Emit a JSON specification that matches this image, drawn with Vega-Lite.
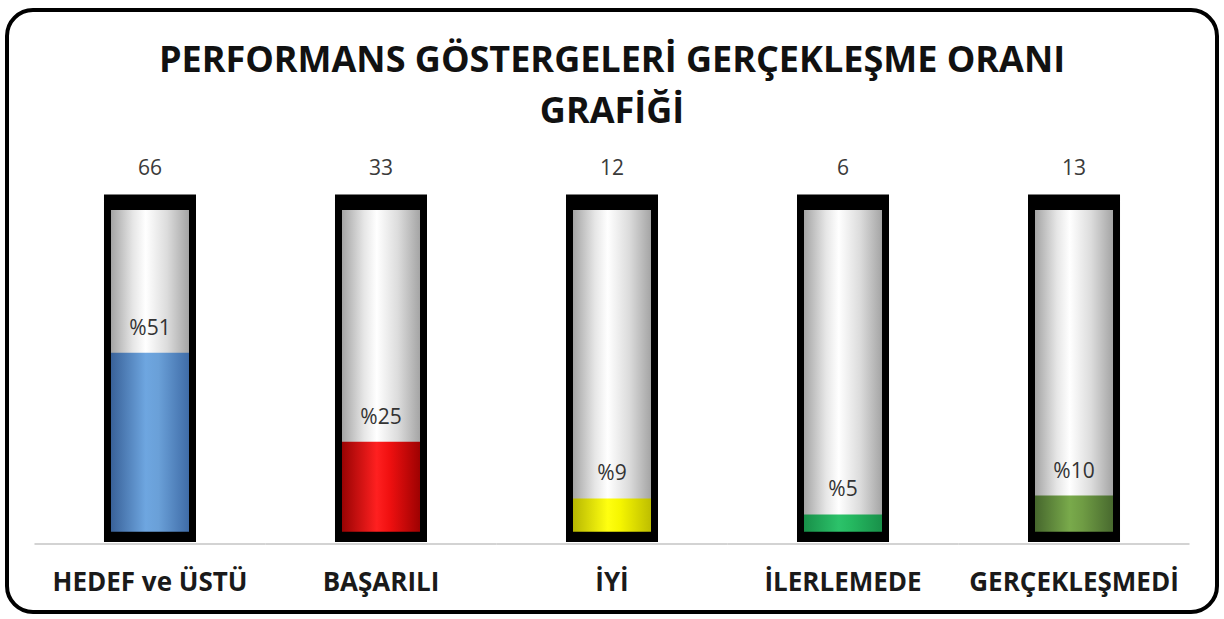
{
  "$schema": "https://vega.github.io/schema/vega-lite/v6.json",
  "width": 1210,
  "height": 602,
  "autosize": "none",
  "padding": {"left": 7, "right": 7, "top": 10, "bottom": 7},
  "background": "white",
  "config": {
    "view": {"stroke": "#000000", "strokeWidth": 4, "cornerRadius": 26},
    "font": "Open Sans"
  },
  "title": {
    "text": ["PERFORMANS GÖSTERGELERİ GERÇEKLEŞME ORANI", "GRAFİĞİ"],
    "font": "Open Sans",
    "fontSize": 36,
    "fontWeight": "bold",
    "color": "#111111",
    "lineHeight": 51,
    "anchor": "middle",
    "frame": "group",
    "offset": -121
  },
  "data": {
    "values": [
      {"cat": "HEDEF ve ÜSTÜ", "count": 66, "pct": 50.8, "label": "%51"},
      {"cat": "BAŞARILI", "count": 33, "pct": 25.4, "label": "%25"},
      {"cat": "İYİ", "count": 12, "pct": 9.2, "label": "%9"},
      {"cat": "İLERLEMEDE", "count": 6, "pct": 4.6, "label": "%5"},
      {"cat": "GERÇEKLEŞMEDİ", "count": 13, "pct": 10.0, "label": "%10"}
    ]
  },
  "encoding": {
    "x": {
      "field": "cat",
      "type": "nominal",
      "sort": null,
      "scale": {"paddingInner": 0, "paddingOuter": 0.119},
      "axis": {
        "orient": "bottom",
        "offset": -68,
        "domain": false,
        "ticks": false,
        "title": null,
        "labelAngle": 0,
        "labelFont": "Open Sans",
        "labelFontWeight": "bold",
        "labelFontSize": 26,
        "labelColor": "#1a1a1a",
        "labelPadding": 25,
        "labelOverlap": false,
        "labelLimit": 0,
        "labelBound": false
      }
    }
  },
  "layer": [
    {
      "mark": {"type": "bar", "width": {"band": 1}, "color": "#c4c4c4"},
      "encoding": {
        "y": {"datum": -3.63, "type": "quantitative", "scale": {"domain": [-23.26, 148.74], "nice": false, "zero": false}, "axis": null},
        "y2": {"datum": -4.06}
      }
    },
    {
      "mark": {
        "type": "bar",
        "width": {"band": 0.368},
        "fill": {
          "gradient": "linear", "x1": 0, "y1": 0, "x2": 1, "y2": 0,
          "stops": [
            {"offset": 0, "color": "#9a9a9a"},
            {"offset": 0.3, "color": "#e6e6e6"},
            {"offset": 0.45, "color": "#ffffff"},
            {"offset": 0.7, "color": "#dcdcdc"},
            {"offset": 1, "color": "#9c9c9c"}
          ]
        }
      },
      "encoding": {
        "y": {"datum": 95.0, "type": "quantitative"},
        "y2": {"datum": -2.26}
      }
    },
    {
      "mark": {"type": "bar", "width": {"band": 0.368}},
      "encoding": {
        "y": {"field": "pct", "type": "quantitative"},
        "y2": {"datum": -1},
        "fill": {
          "condition": [
            {"test": "datum.cat === 'HEDEF ve ÜSTÜ'", "value": {"gradient": "linear", "x1": 0, "y1": 0, "x2": 1, "y2": 0, "stops": [{"offset": 0, "color": "#345b92"}, {"offset": 0.45, "color": "#6ea6e0"}, {"offset": 0.6, "color": "#6aa0d8"}, {"offset": 1, "color": "#3a66a2"}]}},
            {"test": "datum.cat === 'BAŞARILI'", "value": {"gradient": "linear", "x1": 0, "y1": 0, "x2": 1, "y2": 0, "stops": [{"offset": 0, "color": "#8e0000"}, {"offset": 0.45, "color": "#ff2020"}, {"offset": 0.6, "color": "#f01010"}, {"offset": 1, "color": "#940000"}]}},
            {"test": "datum.cat === 'İYİ'", "value": {"gradient": "linear", "x1": 0, "y1": 0, "x2": 1, "y2": 0, "stops": [{"offset": 0, "color": "#b0b000"}, {"offset": 0.45, "color": "#ffff10"}, {"offset": 0.6, "color": "#f5f500"}, {"offset": 1, "color": "#b8b800"}]}},
            {"test": "datum.cat === 'İLERLEMEDE'", "value": {"gradient": "linear", "x1": 0, "y1": 0, "x2": 1, "y2": 0, "stops": [{"offset": 0, "color": "#168a45"}, {"offset": 0.45, "color": "#2cc26a"}, {"offset": 0.6, "color": "#25b860"}, {"offset": 1, "color": "#178c47"}]}}
          ],
          "value": {"gradient": "linear", "x1": 0, "y1": 0, "x2": 1, "y2": 0, "stops": [{"offset": 0, "color": "#41602a"}, {"offset": 0.45, "color": "#79aa4b"}, {"offset": 0.6, "color": "#6f9c44"}, {"offset": 1, "color": "#44642c"}]}
        }
      }
    },
    {
      "mark": {"type": "bar", "width": {"band": 0.368}, "fill": null, "fillOpacity": 0, "stroke": "#000000", "strokeWidth": 7},
      "encoding": {
        "y": {"datum": 95.0, "type": "quantitative"},
        "y2": {"datum": -2.26}
      }
    },
    {
      "mark": {"type": "bar", "width": {"band": 0.398}, "color": "#000000"},
      "encoding": {
        "y": {"datum": 95.9, "type": "quantitative"},
        "y2": {"datum": 91.6}
      }
    },
    {
      "mark": {"type": "bar", "width": {"band": 0.398}, "color": "#000000"},
      "encoding": {
        "y": {"datum": -0.31, "type": "quantitative"},
        "y2": {"datum": -3.11}
      }
    },
    {
      "mark": {"type": "text", "baseline": "bottom", "dy": -16, "fontSize": 21, "font": "Open Sans", "color": "#3a3a3a"},
      "encoding": {
        "y": {"datum": 95.9, "type": "quantitative"},
        "text": {"field": "count", "type": "quantitative"}
      }
    },
    {
      "mark": {"type": "text", "baseline": "bottom", "dy": -14, "fontSize": 21, "font": "Open Sans", "color": "#333333"},
      "encoding": {
        "y": {"field": "pct", "type": "quantitative"},
        "text": {"field": "label", "type": "nominal"}
      }
    }
  ]
}
